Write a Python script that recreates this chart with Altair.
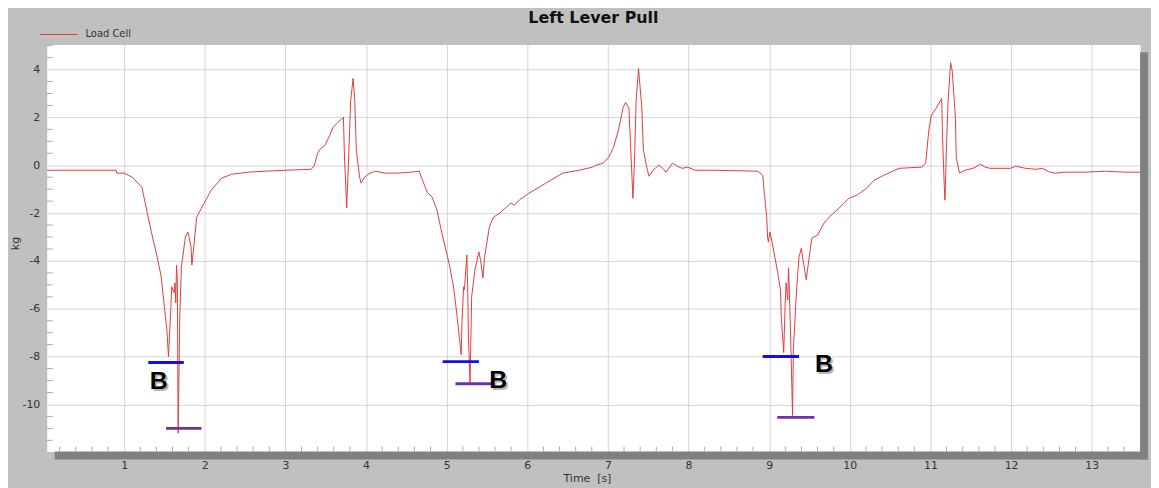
import altair as alt
import numpy as np
import pandas as pd

TITLE = "Left Lever Pull"
SERIES = ["Load Cell"]
X_TITLE = "Time\u00a0 [s]"
Y_TITLE = "kg"

x_ticks = list(range(1, 14))
y_ticks = [-10, -8, -6, -4, -2, 0, 2, 4]

time_s = [
    0.04, 0.90, 0.91, 1.00, 1.10, 1.22, 1.28, 1.34, 1.41, 1.46, 1.49, 1.53, 1.55,
    1.58, 1.59, 1.62, 1.63, 1.64, 1.65, 1.66, 1.67, 1.69, 1.71, 1.76, 1.79, 1.83,
    1.84, 1.86, 1.90, 1.96, 2.08, 2.21, 2.33, 2.54, 2.75, 3.00, 3.32, 3.36, 3.40,
    3.44, 3.49, 3.55, 3.59, 3.65, 3.72, 3.73, 3.76, 3.78, 3.81, 3.84, 3.86, 3.88,
    3.92, 3.94, 3.98, 4.05, 4.12, 4.23, 4.39, 4.55, 4.66,
    4.69, 4.76, 4.82, 4.88, 4.94, 5.00, 5.04, 5.09, 5.13, 5.18, 5.19, 5.21, 5.22,
    5.25, 5.26, 5.27, 5.29, 5.31, 5.35, 5.40, 5.42, 5.45, 5.47, 5.53, 5.58, 5.66,
    5.74, 5.80, 5.84, 5.90, 6.02, 6.23, 6.44, 6.64, 6.81, 6.85, 6.94, 7.01, 7.07,
    7.13, 7.19, 7.22, 7.26, 7.28, 7.31, 7.33, 7.35, 7.38, 7.42, 7.44, 7.49, 7.51,
    7.56, 7.63, 7.68, 7.72, 7.80, 7.86, 7.92, 7.99, 8.08, 8.33, 8.86,
    8.92, 8.94, 8.97, 8.98, 8.99, 9.01, 9.03, 9.07, 9.10, 9.14, 9.15, 9.18, 9.20,
    9.21, 9.23, 9.24, 9.25, 9.27, 9.29, 9.30, 9.34, 9.37, 9.40, 9.42, 9.46, 9.48,
    9.53, 9.60, 9.68, 9.77, 9.84, 9.93, 9.99, 10.09, 10.21, 10.30, 10.42, 10.61,
    10.89, 10.94, 10.98, 11.01, 11.07, 11.14, 11.15, 11.17, 11.18, 11.20, 11.22,
    11.25, 11.27, 11.31, 11.32, 11.36, 11.43, 11.53, 11.62, 11.68, 11.74, 11.86,
    11.99, 12.06, 12.18, 12.31, 12.39, 12.48, 12.55, 12.67, 12.92, 13.17, 13.41, 13.60,
]
load_kg = [
    -0.21, -0.21, -0.33, -0.33, -0.50, -0.92, -1.88, -2.83, -3.83, -4.67, -5.63, -6.88, -8.00,
    -5.92, -5.08, -5.33, -4.92, -5.75, -4.17, -4.90, -11.20, -6.33, -4.25, -3.00, -2.79, -3.42,
    -4.17, -3.54, -2.17, -1.79, -1.04, -0.54, -0.38, -0.29, -0.25, -0.21, -0.17, 0.00, 0.50,
    0.71, 0.83, 1.25, 1.58, 1.79, 2.00, 0.63, -1.79, -0.08, 2.71, 3.63, 2.71, 0.63,
    -0.50, -0.75, -0.50, -0.33, -0.25, -0.33, -0.33, -0.29, -0.25,
    -0.54, -1.13, -1.33, -1.88, -2.83, -3.67, -4.25, -5.21, -6.33, -7.92, -6.58, -5.08, -5.21,
    -3.75, -4.92, -7.17, -9.10, -5.50, -4.38, -3.63, -3.96, -4.71, -3.83, -2.58, -2.17, -2.00,
    -1.75, -1.58, -1.67, -1.46, -1.17, -0.75, -0.33, -0.21, -0.08, 0.00, 0.08, 0.33, 0.75,
    1.46, 2.42, 2.63, 2.38, 0.92, -1.38, 0.21, 2.71, 4.04, 2.42, 0.63, -0.21, -0.46,
    -0.21, 0.00, -0.13, -0.29, 0.08, -0.04, -0.13, -0.08, -0.21, -0.21, -0.25,
    -0.42, -1.17, -2.17, -3.00, -3.21, -2.79, -3.13, -3.83, -4.38, -5.21, -6.33, -7.83, -5.63,
    -4.92, -5.63, -4.29, -5.21, -7.71, -10.46, -7.71, -5.21, -3.83, -3.46, -3.96, -4.79, -4.25,
    -3.04, -2.92, -2.42, -2.08, -1.88, -1.58, -1.38, -1.25, -0.96, -0.63, -0.42, -0.13,
    -0.08, 0.08, 1.46, 2.08, 2.38, 2.79, 1.17, -0.75, -1.46, 0.92, 2.71,
    4.29, 3.96, 2.00, 0.33, -0.33, -0.21, -0.13, 0.04, -0.08, -0.13, -0.13,
    -0.13, -0.04, -0.13, -0.17, -0.13, -0.29, -0.33, -0.29, -0.29, -0.25, -0.29, -0.29,
]

marker_start = [1.30, 1.52, 4.95, 5.11, 8.92, 9.10]
marker_end = [1.74, 1.96, 5.40, 5.58, 9.37, 9.56]
marker_level = [-8.25, -11.00, -8.21, -9.13, -8.00, -10.54]
marker_kind = ["upper", "lower", "upper", "lower", "upper", "lower"]

label_time = [1.43, 5.64, 9.68]
label_level = [-9.04, -8.96, -8.33]
label_text = ["B", "B", "B"]

W, H = 1101, 410
FONT = "DejaVu Sans"
X_DOMAIN = [0.04, 13.6]
Y_DOMAIN = [-11.97, 5.05]

line_df = pd.DataFrame({"t": time_s, "v": load_kg, "series": SERIES[0]})
marker_df = pd.DataFrame({"t": marker_start, "t2": marker_end, "v": marker_level, "kind": marker_kind})
label_df = pd.DataFrame({"t": label_time, "v": label_level, "txt": label_text})
legend_df = pd.DataFrame({"series": SERIES})

x_minor = [round(x, 1) for x in np.arange(0.2, 13.6, 0.2) if abs(x - round(x)) > 1e-6]
y_minor = [round(y, 1) for y in np.arange(-11.5, 5.01, 0.5) if abs(y / 2 - round(y / 2)) > 1e-6]
xminor_df = pd.DataFrame({"t": x_minor})
yminor_df = pd.DataFrame({"v": y_minor})

xs = alt.Scale(domain=X_DOMAIN, nice=False, zero=False)
ys = alt.Scale(domain=Y_DOMAIN, nice=False, zero=False)

x_axis = alt.Axis(
    values=x_ticks, grid=True, gridColor="#d4d4d4", ticks=False, domain=False,
    labelPadding=8, labelFontSize=11, labelColor="#333333", labelFont=FONT,
    title=X_TITLE, titleFont=FONT, titleFontSize=11, titleFontWeight="normal",
    titleColor="#333333", titleX=544, titleY=27, titleAlign="center", titleBaseline="middle",
)
y_axis = alt.Axis(
    values=y_ticks, grid=True, gridColor="#d4d4d4", ticks=False, domain=False,
    labelPadding=7, labelFontSize=11, labelColor="#333333", labelFont=FONT,
    labelExpr="datum.value < 0 ? '-' + abs(datum.value) : '' + datum.value",
    title=Y_TITLE, titleFont=FONT, titleFontSize=11, titleFontWeight="normal",
    titleColor="#333333", titleX=-31, titleY=200, titleAlign="center", titleBaseline="middle",
)

X = alt.X("t:Q", scale=xs, axis=x_axis)
Y = alt.Y("v:Q", scale=ys, axis=y_axis)

one = pd.DataFrame({"k": [0]})

shadow_bottom = alt.Chart(one).mark_rect(color="#808080").encode(
    x=alt.value(8), x2=alt.value(W + 8), y=alt.value(H), y2=alt.value(H + 8)
)
shadow_right = alt.Chart(one).mark_rect(color="#808080").encode(
    x=alt.value(W), x2=alt.value(W + 8), y=alt.value(8), y2=alt.value(H + 8)
)

line = alt.Chart(line_df).mark_line(color="#e23b3b", strokeWidth=1, clip=True).encode(
    x=X, y=Y, order="t:Q",
)

xminor = alt.Chart(xminor_df).mark_rule(color="#a8a8a8", strokeWidth=1).encode(
    x=X, y=alt.value(H), y2=alt.value(H - 5)
)
yminor = alt.Chart(yminor_df).mark_rule(color="#a8a8a8", strokeWidth=1).encode(
    y=Y, x=alt.value(0), x2=alt.value(6)
)

markers = alt.Chart(marker_df).mark_rule(strokeWidth=3).encode(
    x=X, x2="t2:Q", y=Y,
    color=alt.Color("kind:N", scale=alt.Scale(domain=["upper", "lower"], range=["#1010e8", "#6e30a8"]), legend=None),
)

label_shadow = alt.Chart(label_df).mark_text(
    font="Liberation Sans", fontSize=25, fontWeight="bold", color="#9a9a9a", dx=2, dy=2, opacity=0.7
).encode(x=X, y=Y, text="txt:N")
labels = alt.Chart(label_df).mark_text(
    font="Liberation Sans", fontSize=25, fontWeight="bold", color="#000000"
).encode(x=X, y=Y, text="txt:N")

legend_line = alt.Chart(legend_df).mark_rule(color="#e23b3b", strokeWidth=1).encode(
    x=alt.value(-7), x2=alt.value(31), y=alt.value(-10)
)
legend_text = alt.Chart(legend_df).mark_text(
    font=FONT, fontSize=10, color="#333333", align="left", baseline="middle"
).encode(x=alt.value(39), y=alt.value(-10), text="series:N")

chart = alt.layer(
    line, shadow_bottom, shadow_right, xminor, yminor, markers,
    label_shadow, labels, legend_line, legend_text,
).properties(
    width=W, height=H,
    title=alt.TitleParams(TITLE, font=FONT, fontSize=16, fontWeight="bold", color="#111111",
                          anchor="middle", frame="group", offset=4),
    padding={"left": 39, "top": 35, "right": 11, "bottom": 35},
    autosize=alt.AutoSizeParams(type="none"),
).configure(
    background="#c0c0c0"
).configure_view(
    fill="white", stroke="transparent"
)

chart.save("out.html", embed_options={"renderer": "svg", "actions": False})
